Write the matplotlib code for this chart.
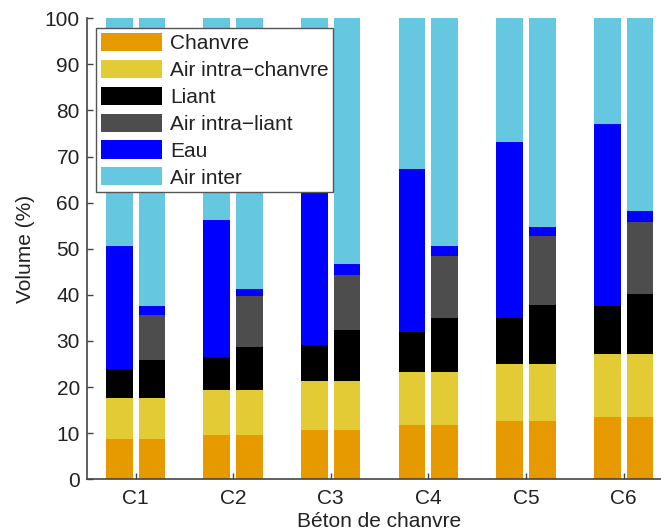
from matplotlib import pyplot
from matplotlib.patches import Rectangle
from matplotlib.legend_handler import HandlerPatch
import numpy as np

groups = ['C1', 'C2', 'C3', 'C4', 'C5', 'C6']
labels = ['Chanvre', 'Air intra\u2212chanvre', 'Liant', 'Air intra\u2212liant', 'Eau', 'Air inter']
colors = ['#E69A00', '#E3CB35', '#000000', '#4D4D4D', '#0000FF', '#66C8E0']

# first bar of each group
chanvre_a = [8.8, 9.7, 10.6, 11.8, 12.6, 13.6]
air_chanvre_a = [8.8, 9.6, 10.8, 11.4, 12.3, 13.6]
liant_a = [6.4, 7.3, 7.8, 8.7, 10.0, 10.3]
air_liant_a = [0, 0, 0, 0, 0, 0]
eau_a = [26.5, 29.6, 33.8, 35.5, 38.2, 39.5]

# second bar of each group
chanvre_b = [8.8, 9.7, 10.6, 11.8, 12.6, 13.6]
air_chanvre_b = [8.8, 9.6, 10.8, 11.4, 12.3, 13.6]
liant_b = [8.2, 9.4, 10.9, 11.8, 12.9, 13.0]
air_liant_b = [9.9, 11.0, 12.1, 13.4, 14.9, 15.5]
eau_b = [1.8, 1.5, 2.2, 2.1, 2.0, 2.6]

pyplot.rcParams['font.family'] = ['Liberation Sans', 'DejaVu Sans']
pyplot.rcParams['font.size'] = 15

fig = pyplot.figure(figsize=(6.61, 5.31), dpi=100)
ax = fig.add_axes([0.1312, 0.0974, 0.886, 0.8682])

x = np.arange(1, len(groups) + 1)
width = 0.273
offset = 0.1675

for xs, parts in [(x - offset, [chanvre_a, air_chanvre_a, liant_a, air_liant_a, eau_a]),
                  (x + offset, [chanvre_b, air_chanvre_b, liant_b, air_liant_b, eau_b])]:
    parts = [np.array(p, dtype=float) for p in parts]
    parts.append(100 - sum(parts))  # air inter fills up to 100 %
    bottom = np.zeros(len(groups))
    for i, vals in enumerate(parts):
        ax.bar(xs, vals, width, bottom=bottom, color=colors[i], edgecolor='none',
               label=labels[i] if xs[0] < 1 else None)
        bottom = bottom + vals

ax.set_xlim(0.5, 6.5)
ax.set_ylim(0, 100)
ax.set_xticks(x)
ax.set_xticklabels(groups)
ax.set_yticks(np.arange(0, 101, 10))
ax.tick_params(direction='in', length=4, width=1, color='#444444', labelcolor='#222222')
ax.tick_params(axis='x', pad=7)
ax.tick_params(axis='y', pad=5)
ax.spines['top'].set_visible(False)
ax.spines['right'].set_visible(False)
for s in ['left', 'bottom']:
    ax.spines[s].set_color('#444444')
    ax.spines[s].set_linewidth(1.2)

ax.set_xlabel('B\u00e9ton de chanvre', color='#222222', labelpad=3)
ax.set_ylabel('Volume (%)', color='#222222', labelpad=7)


# legend swatches sit a bit away from the left border, like the original
def shifted_rect(legend, orig_handle, xdescent, ydescent, width, height, fontsize):
    shift = 4.0
    return Rectangle((-xdescent + shift, -ydescent), width - shift, height)


leg = ax.legend(loc='upper left', bbox_to_anchor=(0.0159, 0.978), borderaxespad=0,
                fancybox=False, framealpha=1, edgecolor='#555555', handlelength=2.95,
                handleheight=0.96, handletextpad=0.38, labelspacing=0.32, borderpad=0.22,
                handler_map={Rectangle: HandlerPatch(patch_func=shifted_rect)})
leg.get_frame().set_linewidth(1.0)
for t in leg.get_texts():
    t.set_color('#222222')

fig.savefig('out.png', dpi=100)
